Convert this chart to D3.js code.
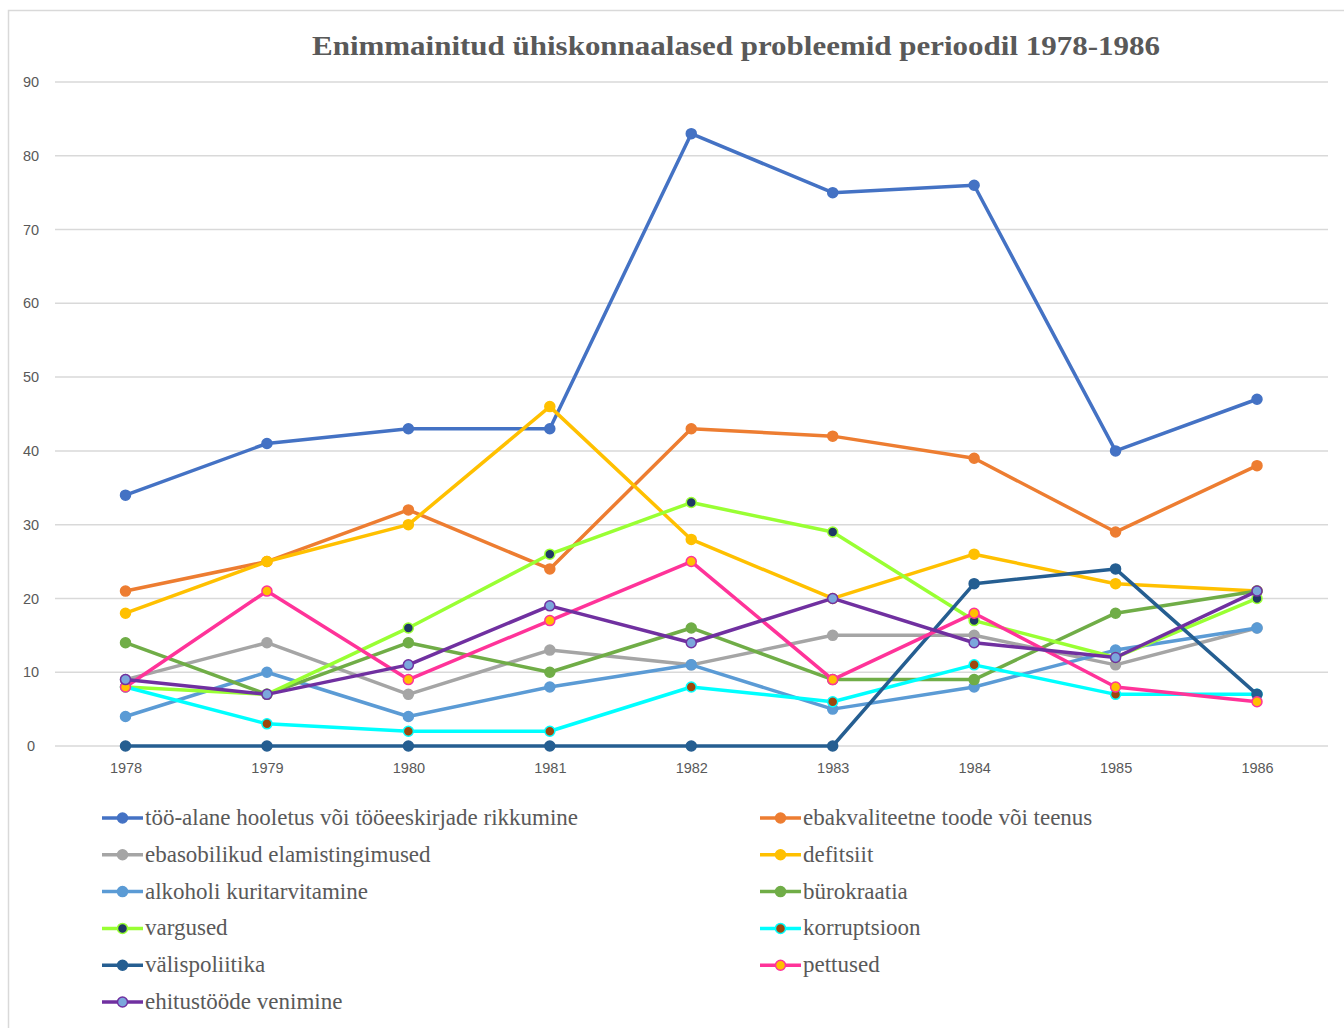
<!DOCTYPE html>
<html><head><meta charset="utf-8">
<script src="https://cdn.jsdelivr.net/npm/d3@7"></script>
<style>body{margin:0;background:#fff}svg{display:block}</style>
</head><body>
<script>
const years = ["1978","1979","1980","1981","1982","1983","1984","1985","1986"];
const yTicks = [0,10,20,30,40,50,60,70,80,90];
const names = [
 "töö-alane hooletus või tööeeskirjade rikkumine",
 "ebakvaliteetne toode või teenus",
 "ebasobilikud elamistingimused",
 "defitsiit",
 "alkoholi kuritarvitamine",
 "bürokraatia",
 "vargused",
 "korruptsioon",
 "välispoliitika",
 "pettused",
 "ehitustööde venimine"
];
const hooletus = [34,41,43,43,83,75,76,40,47];
const ebakval = [21,25,32,24,43,42,39,29,38];
const elamis = [9,14,7,13,11,15,15,11,16];
const defitsiit = [18,25,30,46,28,20,26,22,21];
const alkohol = [4,10,4,8,11,5,8,13,16];
const byrokraatia = [14,7,14,10,16,9,9,18,21];
const vargused = [8,7,16,26,33,29,17,12,20];
const korruptsioon = [8,3,2,2,8,6,11,7,7];
const valispol = [0,0,0,0,0,0,22,24,7];
const pettused = [8,21,9,17,25,9,18,8,6];
const ehitus = [9,7,11,19,14,20,14,12,21];
const seriesValues = [hooletus,ebakval,elamis,defitsiit,alkohol,byrokraatia,vargused,korruptsioon,valispol,pettused,ehitus];
const lineColors = ["#4472C4","#ED7D31","#A5A5A5","#FFC000","#5B9BD5","#70AD47","#99FF33","#00FFFF","#255E91","#FF3399","#7030A0"];
const markerFill = ["#4472C4","#ED7D31","#A5A5A5","#FFC000","#5B9BD5","#70AD47","#1F3864","#9E480E","#255E91","#FFC000","#7BA7DC"];

const W=1344,H=1028;
const svg=d3.select("body").append("svg").attr("width",W).attr("height",H);
svg.append("rect").attr("x",8.5).attr("y",10.5).attr("width",W).attr("height",H).attr("fill","#fff").attr("stroke","#d9d9d9").attr("stroke-width",1.5);

const x=d3.scalePoint().domain(years).range([125.5,1257]);
const y=d3.scaleLinear().domain([0,90]).range([746,82]);

const grid=svg.append("g");
grid.selectAll("line").data(yTicks).join("line")
 .attr("x1",55).attr("x2",1328).attr("y1",d=>y(d)).attr("y2",d=>y(d))
 .attr("stroke","#d9d9d9").attr("stroke-width",1.5);

const yAxis=svg.append("g").attr("transform","translate(40,0)")
 .call(d3.axisLeft(y).tickValues(yTicks).tickSize(0).tickPadding(0));
yAxis.select(".domain").remove();
yAxis.selectAll("text").attr("font-family","Liberation Sans, Arial, sans-serif").attr("font-size",14.5).attr("fill","#595959").attr("text-anchor","middle").attr("dx",-9);

const xAxis=svg.append("g").attr("transform","translate(0,763)")
 .call(d3.axisBottom(x).tickSize(0).tickPadding(0));
xAxis.select(".domain").remove();
xAxis.selectAll("text").attr("font-family","Liberation Sans, Arial, sans-serif").attr("font-size",14.5).attr("fill","#595959").attr("dy","0.71em");

svg.append("text").attr("x",736).attr("y",55).attr("text-anchor","middle")
 .attr("font-family","Liberation Serif, Times New Roman, serif").attr("font-weight","bold")
 .attr("font-size",27).attr("fill","#595959").attr("textLength",848).attr("lengthAdjust","spacingAndGlyphs")
 .text("Enimmainitud  ühiskonnaalased  probleemid perioodil 1978-1986");

const line=d3.line().x((d,i)=>x(years[i])).y(d=>y(d));
seriesValues.forEach((vals,k)=>{
  const g=svg.append("g");
  g.append("path").datum(vals).attr("d",line).attr("fill","none")
   .attr("stroke",lineColors[k]).attr("stroke-width",3.5).attr("stroke-linejoin","round");
  g.selectAll("circle").data(vals).join("circle")
   .attr("cx",(d,i)=>x(years[i])).attr("cy",d=>y(d)).attr("r",5)
   .attr("fill",markerFill[k]).attr("stroke",lineColors[k]).attr("stroke-width",1.5);
});

const leg=svg.append("g");
names.forEach((n,k)=>{
  const col=k%2, row=Math.floor(k/2);
  const lx= col===0?102:760, ly=818+row*36.8;
  leg.append("line").attr("x1",lx).attr("x2",lx+41).attr("y1",ly).attr("y2",ly)
   .attr("stroke",lineColors[k]).attr("stroke-width",3.5);
  leg.append("circle").attr("cx",lx+20.5).attr("cy",ly).attr("r",5)
   .attr("fill",markerFill[k]).attr("stroke",lineColors[k]).attr("stroke-width",1.5);
  leg.append("text").attr("x",lx+43).attr("y",ly+7)
   .attr("font-family","Liberation Serif, Times New Roman, serif").attr("font-size",23)
   .attr("fill","#595959").text(n);
});
</script>
</body></html>
